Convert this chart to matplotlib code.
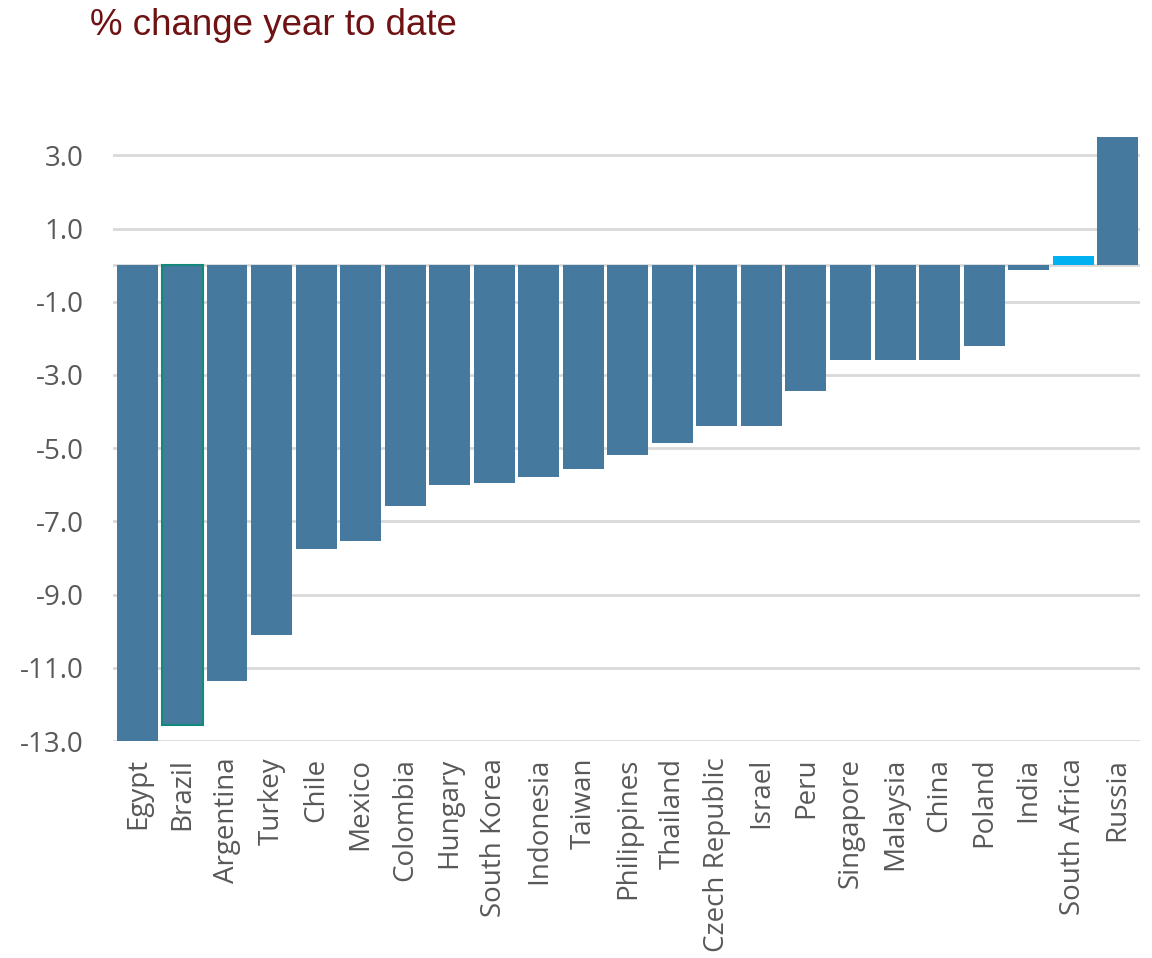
import matplotlib
matplotlib.use("Agg")
import matplotlib.pyplot as plt
import numpy as np

countries = ["Egypt", "Brazil", "Argentina", "Turkey", "Chile", "Mexico", "Colombia",
             "Hungary", "South Korea", "Indonesia", "Taiwan", "Philippines", "Thailand",
             "Czech Republic", "Israel", "Peru", "Singapore", "Malaysia", "China",
             "Poland", "India", "South Africa", "Russia"]
changes = [-13.0, -12.55, -11.35, -10.1, -7.76, -7.55, -6.57, -6.02, -5.94, -5.78,
           -5.58, -5.2, -4.87, -4.4, -4.4, -3.45, -2.6, -2.58, -2.58, -2.22,
           -0.13, 0.26, 3.5]
y_ticks = [3.0, 1.0, -1.0, -3.0, -5.0, -7.0, -9.0, -11.0, -13.0]

base = "#46799e"
colors = [base] * len(countries)
colors[countries.index("South Africa")] = "#00b0f0"
edges = [base] * len(countries)
edges[countries.index("Brazil")] = "#13897c"

fig = plt.figure(figsize=(11.52, 9.58), dpi=100)
ax = fig.add_axes([113 / 1152, (958 - 741) / 958, (1140 - 113) / 1152, (741 - 137) / 958])

x = np.arange(len(countries))
bars = ax.bar(x, changes, width=0.92, color=colors, edgecolor=edges, linewidth=0, zorder=3)
brazil = bars[countries.index("Brazil")]
brazil.set_linewidth(1.5)

ax.set_xlim(-0.56, len(countries) - 0.5)
ax.set_ylim(-13.0, 3.5)
ax.set_yticks(y_ticks)
ax.set_yticklabels([f"{v:.1f}" for v in y_ticks], fontsize=20, color="#595959",
                   family=["Open Sans", "DejaVu Sans"])
ax.set_xticks(x)
ax.set_xticklabels(countries, rotation=90, fontsize=20, color="#595959",
                   family=["Open Sans", "DejaVu Sans"])
ax.tick_params(length=0)
ax.tick_params(axis="x", pad=12)
ax.tick_params(axis="y", pad=21)

ax.grid(axis="y", color="#d9d9d9", linewidth=2, zorder=0)
ax.axhline(0, color="#d9d9d9", linewidth=2, zorder=2)
for s in ax.spines.values():
    s.set_visible(False)

fig.text(90 / 1152, 1 - 35 / 958, "% change year to date", fontsize=26.5, color="#6f1214",
         family=["Liberation Sans", "DejaVu Sans"], va="baseline")

fig.savefig("out.png", dpi=100)
